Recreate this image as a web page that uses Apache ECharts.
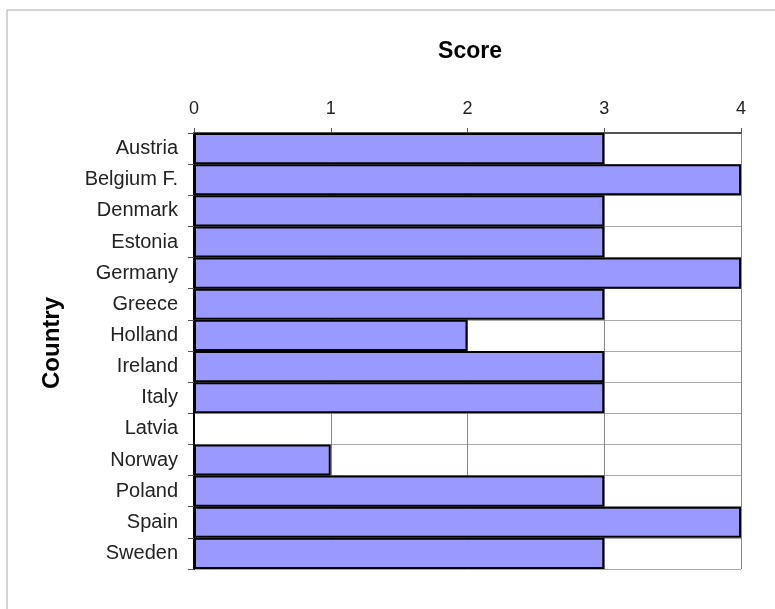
<!DOCTYPE html>
<html>
<head>
<meta charset="utf-8">
<script src="https://cdn.jsdelivr.net/npm/echarts@6/dist/echarts.min.js"></script>
<style>
  html, body { margin: 0; padding: 0; background: #fff; }
  #chart { width: 775px; height: 609px; }
</style>
</head>
<body>
<div id="chart"></div>
<script>
var countries = ['Austria', 'Belgium F.', 'Denmark', 'Estonia', 'Germany', 'Greece', 'Holland',
  'Ireland', 'Italy', 'Latvia', 'Norway', 'Poland', 'Spain', 'Sweden'];
var scores = [3, 4, 3, 3, 4, 3, 2, 3, 3, 0, 1, 3, 4, 3];
var scoreTicks = [0, 1, 2, 3, 4];

var myChart = echarts.init(document.getElementById('chart'));
var option = {
  animation: false,
  textStyle: { fontFamily: 'Liberation Sans, Arial, sans-serif' },
  title: {
    text: 'Score',
    left: 465,
    top: 35,
    textAlign: 'center',
    textStyle: { fontSize: 23, fontWeight: 'bold', color: '#000' }
  },
  graphic: [
    { type: 'line', shape: { x1: 7, y1: 10, x2: 775, y2: 10 }, style: { stroke: '#aaa', lineWidth: 1 } },
    { type: 'line', shape: { x1: 7, y1: 10, x2: 7, y2: 609 }, style: { stroke: '#aaa', lineWidth: 1 } }
  ],
  grid: { left: 194, top: 133, width: 547, height: 436 },
  xAxis: {
    type: 'value',
    position: 'top',
    min: scoreTicks[0],
    max: scoreTicks[scoreTicks.length - 1],
    interval: 1,
    axisLine: { show: true, lineStyle: { color: '#555', width: 2 } },
    axisTick: { show: true, length: 5, lineStyle: { color: '#555' } },
    axisLabel: { fontSize: 18, color: '#222', margin: 15 },
    splitLine: { show: true, lineStyle: { color: '#888', width: 1 } }
  },
  yAxis: {
    type: 'category',
    data: countries,
    inverse: true,
    name: 'Country',
    nameLocation: 'middle',
    nameGap: 130,
    nameRotate: 90,
    nameTextStyle: { fontSize: 24, fontWeight: 'bold', color: '#000', padding: [0, 0, 0, 16] },
    axisLine: { show: true, lineStyle: { color: '#000', width: 2 } },
    axisTick: { show: true, length: 6, lineStyle: { color: '#555' } },
    axisLabel: { fontSize: 20, color: '#222', margin: 16 },
    splitLine: { show: true, lineStyle: { color: '#aaa', width: 1 } }
  },
  series: [{
    type: 'bar',
    data: scores,
    barCategoryGap: 0,
    itemStyle: { color: '#9999ff', borderColor: '#000', borderWidth: 2 }
  }]
};
myChart.setOption(option);
</script>
</body>
</html>
